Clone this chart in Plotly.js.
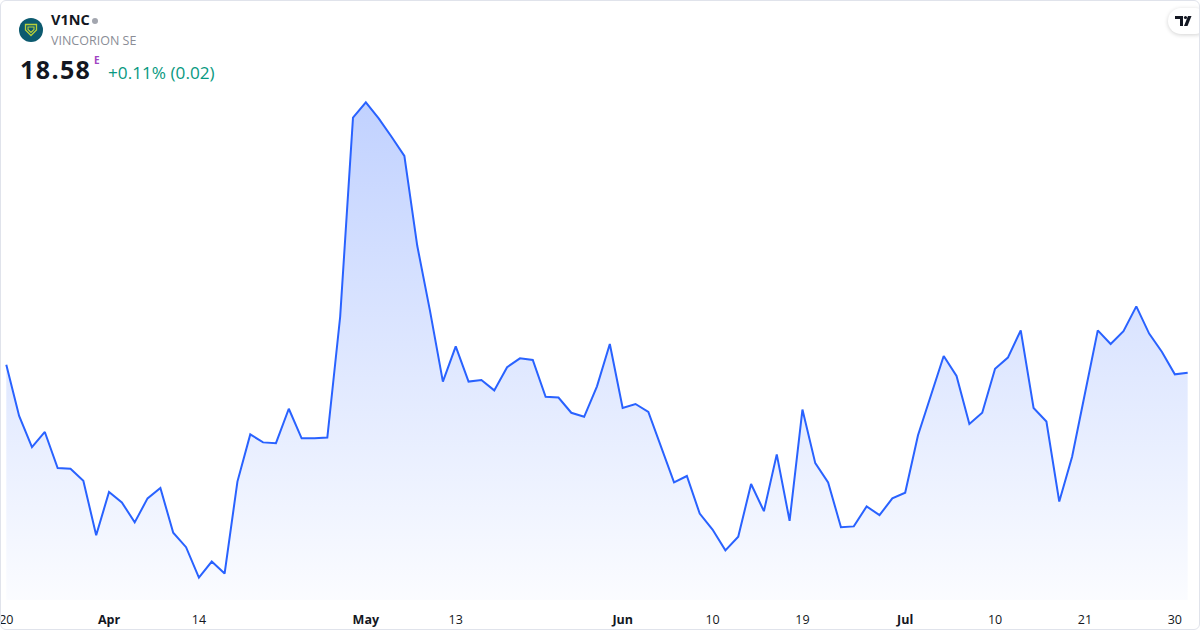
<!DOCTYPE html>
<html>
<head>
<meta charset="utf-8">
<script src="https://cdn.plot.ly/plotly-3.0.1.min.js"></script>
<style>
  html, body { margin: 0; padding: 0; background: #ffffff; }
  #wrap { position: relative; width: 1200px; height: 630px; overflow: hidden; font-family: "Open Sans", "Noto Sans", sans-serif; }
  #chart { position: absolute; left: 0; top: 0; width: 1200px; height: 630px; }
  #frame { position: absolute; left: 0; top: 0; width: 1200px; height: 630px; box-sizing: border-box; border: 1px solid #e0e3eb; border-radius: 6px; pointer-events: none; }
  .abs { position: absolute; white-space: nowrap; }
  #sym { left: 51px; top: 10px; font-size: 14.5px; font-weight: 700; color: #131722; }
  #dot { left: 92px; top: 18px; width: 6px; height: 6px; border-radius: 50%; background: #a3a6af; }
  #name { left: 51px; top: 32px; font-size: 12.5px; color: #8a8d96; }
  #price { left: 20px; top: 52px; font-size: 25px; font-weight: 700; color: #131722; letter-spacing: 1.4px; }
  #sup { left: 94px; top: 53px; font-size: 10px; font-weight: 700; color: #a043c2; }
  #chg { left: 108px; top: 61px; font-size: 17.2px; color: #089981; }
  #logo { left: 19px; top: 18px; }
  #tv { left: 1168px; top: 8px; width: 40px; height: 26px; border-radius: 13px; background: #fff; box-shadow: 0 1px 4px rgba(0,0,0,0.18); }
</style>
</head>
<body>
<div id="wrap">
  <div id="chart"></div>
  <svg id="logo" class="abs" width="24" height="24" viewBox="0 0 24 24">
    <circle cx="12" cy="12" r="12" fill="#0c5a6f"/>
    <path d="M6.5 6.5 L17.5 6.5 L17.5 12 L12 17.5 L6.5 12 Z" fill="none" stroke="#b7cf3a" stroke-width="1.3"/>
    <path d="M9 9 L15 9 L15 11.5 L12 14.5 L9 11.5 Z" fill="none" stroke="#b7cf3a" stroke-width="1.1"/>
  </svg>
  <div id="sym" class="abs">V1NC</div>
  <div id="dot" class="abs"></div>
  <div id="name" class="abs">VINCORION SE</div>
  <div id="price" class="abs">18.58</div>
  <div id="sup" class="abs">E</div>
  <div id="chg" class="abs">+0.11% (0.02)</div>
  <div id="tv" class="abs">
    <svg width="40" height="26" viewBox="0 0 40 26" style="position:absolute;left:0;top:0">
      <path d="M7 8 H15 V18 H12 V11 H7 Z" fill="#131722"/>
      <circle cx="17.5" cy="9.5" r="1.6" fill="#131722"/>
      <path d="M20 8 H23.5 L19.5 18 H16 Z" fill="#131722"/>
    </svg>
  </div>
  <div id="frame"></div>
</div>
<script>
// Trading days (2026-03-20 .. 2026-07-31)
const dates = [
  "2026-03-20","2026-03-23","2026-03-24","2026-03-25","2026-03-26","2026-03-27","2026-03-30","2026-03-31",
  "2026-04-01","2026-04-02","2026-04-07","2026-04-08","2026-04-09","2026-04-10","2026-04-13","2026-04-14",
  "2026-04-15","2026-04-16","2026-04-17","2026-04-20","2026-04-21","2026-04-22","2026-04-23","2026-04-24",
  "2026-04-27","2026-04-28","2026-04-29","2026-04-30",
  "2026-05-04","2026-05-05","2026-05-06","2026-05-07","2026-05-08","2026-05-11","2026-05-12","2026-05-13",
  "2026-05-14","2026-05-15","2026-05-18","2026-05-19","2026-05-20","2026-05-21","2026-05-22","2026-05-25",
  "2026-05-26","2026-05-27","2026-05-28","2026-05-29",
  "2026-06-01","2026-06-02","2026-06-03","2026-06-04","2026-06-05","2026-06-08","2026-06-09","2026-06-10",
  "2026-06-11","2026-06-12","2026-06-15","2026-06-16","2026-06-17","2026-06-18","2026-06-19","2026-06-22",
  "2026-06-23","2026-06-24","2026-06-25","2026-06-26","2026-06-29","2026-06-30",
  "2026-07-01","2026-07-02","2026-07-03","2026-07-06","2026-07-07","2026-07-08","2026-07-09","2026-07-10",
  "2026-07-13","2026-07-14","2026-07-15","2026-07-16","2026-07-17","2026-07-20","2026-07-21","2026-07-22",
  "2026-07-23","2026-07-24","2026-07-27","2026-07-28","2026-07-29","2026-07-30","2026-07-31"
];

// Closing prices (EUR)
const closes = [
  18.68, 18.04, 17.65, 17.84, 17.39, 17.38, 17.23, 16.55,
  17.09, 16.96, 16.71, 17.01, 17.14, 16.58, 16.40, 16.02,
  16.22, 16.07, 17.22, 17.81, 17.71, 17.70, 18.13, 17.76,
  17.76, 17.77, 19.28, 21.77,
  21.96, 21.76, 21.53, 21.29, 20.17, 19.35, 18.47, 18.91,
  18.47, 18.49, 18.36, 18.65, 18.76, 18.74, 18.28, 18.27,
  18.08, 18.03, 18.41, 18.94,
  18.14, 18.19, 18.09, 17.65, 17.21, 17.29, 16.82, 16.62,
  16.36, 16.53, 17.19, 16.85, 17.56, 16.73, 18.12, 17.45,
  17.21, 16.65, 16.66, 16.91, 16.80, 17.01,
  17.08, 17.80, 18.29, 18.79, 18.54, 17.94, 18.08, 18.63,
  18.77, 19.11, 18.14, 17.97, 16.97, 17.53, 18.32, 19.11,
  18.94, 19.10, 19.41, 19.07, 18.84, 18.56, 18.58
];

// Axis tick labels
const tickDates = ["2026-03-20","2026-04-01","2026-04-14","2026-05-04","2026-05-13","2026-06-01",
                   "2026-06-10","2026-06-19","2026-07-01","2026-07-10","2026-07-21","2026-07-30"];
const tickLabels = ["20","<b>Apr</b>","14","<b>May</b>","13","<b>Jun</b>","10","19","<b>Jul</b>","10","21","30"];

const yMin = 15.74, yMax = 22.114;

const trace = {
  x: dates,
  y: closes,
  type: "scatter",
  mode: "lines",
  line: { color: "#2962ff", width: 2, shape: "linear" },
  fill: "tozeroy",
  fillgradient: {
    type: "vertical",
    start: yMin,
    stop: Math.max(...closes),
    colorscale: [[0, "rgba(41,98,255,0.02)"], [1, "rgba(41,98,255,0.29)"]]
  },
  hoverinfo: "skip"
};

const layout = {
  width: 1200,
  height: 630,
  margin: { l: 0, r: 0, t: 90, b: 30, pad: 0 },
  paper_bgcolor: "#ffffff",
  plot_bgcolor: "#ffffff",
  showlegend: false,
  xaxis: {
    type: "category",
    range: [-0.49, 92.96],
    tickmode: "array",
    tickvals: tickDates,
    ticktext: tickLabels,
    showgrid: false,
    zeroline: false,
    showline: false,
    ticks: "outside",
    ticklen: 8,
    tickcolor: "rgba(0,0,0,0)",
    tickfont: { family: "Open Sans, Noto Sans, sans-serif", size: 12.5, color: "#131722" },
    fixedrange: true
  },
  yaxis: {
    range: [yMin, yMax],
    showgrid: false,
    zeroline: false,
    showline: false,
    showticklabels: false,
    ticks: "",
    fixedrange: true
  }
};

Plotly.newPlot("chart", [trace], layout, { displayModeBar: false, staticPlot: true });
</script>
</body>
</html>
